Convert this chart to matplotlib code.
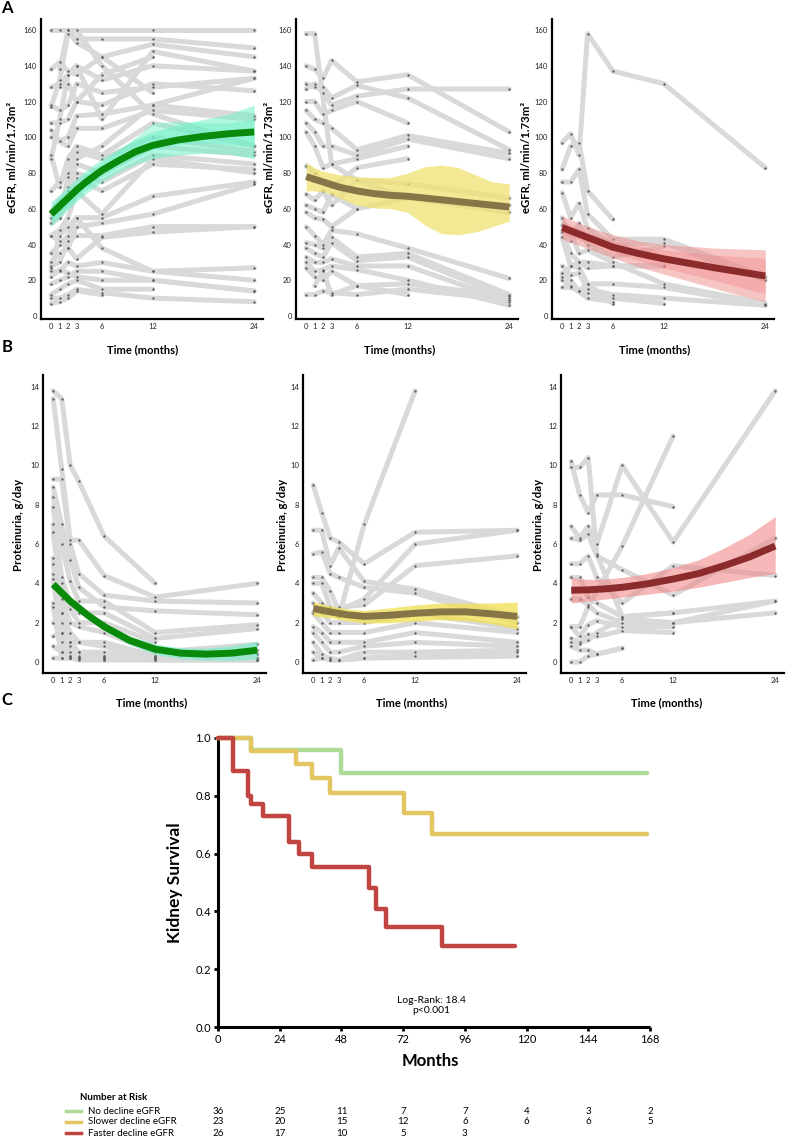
import numpy as np
import matplotlib
matplotlib.use('Agg')
import matplotlib.pyplot as plt
from matplotlib.transforms import blended_transform_factory

plt.rcParams['font.family'] = ['Lato', 'DejaVu Sans']

# ---------------- DATA ----------------
visit_months = [0, 1, 2, 3, 6, 12, 24]
egfr_ticks = [0, 20, 40, 60, 80, 100, 120, 140, 160]
prot_ticks = [0, 2, 4, 6, 8, 10, 12, 14]

# individual eGFR trajectories (values at visit_months, None = missing)
egfr_no_decline = [
    [160, 160, None, None, None, 160, 160],
    [None, None, 160, 155, 155, 155, 150],
    [138, 142, 137, 135, 145, 152, 145],
    [128, 130, 135, 140, 132, 140, 137],
    [118, 115, 118, 130, 125, 128, 133],
    [108, 108, 110, 120, 118, 130, 126],
    [104, 98, 100, 112, 113, 118, 112],
    [100, None, 95, 105, 105, 115, 110],
    [90, 72, 88, 95, 90, 108, 95],
    [70, 75, 80, 92, 88, 100, 92],
    [58, 65, 70, 85, 80, 95, 90],
    [55, 60, 72, 80, 75, 90, 85],
    [52, 55, 65, 77, 70, 85, 82],
    [45, 48, 55, 70, 57, 88, 80],
    [35, 40, 45, 55, 55, 67, 75],
    [30, 35, 38, 50, 52, 57, 74],
    [28, 30, 42, 45, 45, 50, 50],
    [25, 25, 30, 28, 30, 25, 27],
    [18, 20, 22, 25, 25, 20, 14],
    [12, 15, 18, 20, 15, 15, None],
    [10, 10, 12, 15, 13, 10, 8],
    [7, 8, 10, 14, 12, None, None],
    [None, 138, 160, 153, 145, 125, None],
    [None, 128, 130, 120, 135, 145, None],
    [117, 132, 158, 160, 140, 113, 95],
    [88, 110, 135, 140, 110, 148, 137],
    [None, 55, 78, 88, 95, 118, 133],
    [45, 42, 38, 32, 44, 47, 50],
    [27, 45, 50, 55, 38, 25, 20],
    [22, 26, 24, 22, 20, 20, 14],
]
egfr_slower = [
    [158, 158, None, 85, 76, 66, 62],
    [140, 138, 133, 143, 131, 135, 103],
    [130, 128, 128, 122, 129, 122, 93],
    [127, 130, 125, 118, 123, 127, 127],
    [120, 120, 113, 115, 120, 108, None],
    [115, 110, 108, 105, 93, 101, 91],
    [108, 103, 95, 95, 90, 99, 88],
    [103, 95, 83, 85, 88, 95, None],
    [84, 80, 75, 72, 83, 88, None],
    [68, 65, 70, 62, 76, 74, 66],
    [62, 60, 58, 68, 60, 66, 58],
    [58, 55, 54, 50, 60, None, None],
    [50, 45, 40, 48, 46, 38, 21],
    [41, 40, 38, 44, 33, 35, 12],
    [38, 35, 33, 41, 31, 33, 10],
    [33, 30, 30, 32, 28, 28, 8],
    [30, 25, 26, 28, 26, 20, 6],
    [27, 22, 20, 25, 17, 18, 11],
    [12, 12, 14, 13, 12, 15, 9],
    [None, 17, 25, 12, 17, 12, None],
]
egfr_faster = [
    [97, 102, 90, 158, 137, 130, 83],
    [82, 95, 97, 70, 54, None, None],
    [75, 75, 82, 57, 43, 43, 22],
    [69, 55, 63, 49, 40, 41, 20],
    [55, 42, 52, 40, 33, 39, None],
    [51, 47, 35, 37, 30, 18, 7],
    [47, 35, 30, 30, 28, 28, None],
    [44, 28, 27, 18, 18, 16, 6],
    [28, 23, 24, 15, 12, 10, 6],
    [24, 20, 14, 13, 10, 7, None],
    [20, 17, None, 10, 8, None, None],
    [16, 16, 14, 18, 7, None, None],
    [22, 28, 30, 27, 28, 28, None],
]

# individual proteinuria trajectories
prot_no_decline = [
    [13.8, 13.4, 10, 9.2, 6.4, 4.0, None],
    [13.4, 9.8, 6.2, 6.2, 4.4, 3.3, 4.0],
    [9.3, 9.3, 6, 4.5, 3.4, 3.1, 3.0],
    [8.9, 7, 5.2, 3.8, 2.8, 2.6, 2.4],
    [8.4, 6, 4.1, 3.1, 3.1, 1.5, 1.9],
    [7.9, 4.3, 3, 2.5, 2.5, 1.2, 1.7],
    [7, 4, 2.7, 2, 2, 1, None],
    [6.6, 3.2, 2, 1.8, 1.5, 0.5, 0.9],
    [5.3, 2.5, 1.5, 1, 1, 0.3, 0.6],
    [5, 2, 1, 0.5, 0.5, 0.2, 0.4],
    [4.5, 1.5, 0.5, 0.2, 0.2, 0.2, 0.2],
    [4.2, 1, 0.2, 0.3, 0.3, 0.2, 0.1],
    [3, 0.5, 0.3, 0.2, 0.2, 0.1, 0.1],
    [2.8, 0.2, 0.2, 0.2, 0.1, None, None],
    [2, 2.5, 1, 1, 0.8, 0.3, None],
    [1.3, 1.5, 0.8, 0.5, 0.3, 0.2, 0.2],
    [0.8, 0.5, 0.3, 0.2, 0.2, None, None],
    [0.2, 0.2, 0.2, 0.1, 0.1, 0.1, 0.1],
]
prot_slower = [
    [9, 7.6, 6.3, 6.1, 5.0, 6.6, 6.7],
    [6.7, 6.7, 4.9, 5.8, 4.1, 3.7, 2.3],
    [5.5, 5.6, 4.5, 4.3, 3.8, 3.5, 2.0],
    [4.3, 4.3, 3.6, 2.6, 3.2, 6.0, 6.7],
    [4.0, 4.0, 2.8, 2.3, 7.0, 13.8, None],
    [3.5, 3, 2.5, 2.8, 2.9, 4.9, 5.4],
    [3, 2.5, 2, 2, 2, 2.5, 1.7],
    [2.5, 2, 1.5, 1.5, 1.5, 2, 1.5],
    [1.8, 1.5, 1, 1, 1, 1.5, 1],
    [1.5, 1, 0.5, 0.5, 0.8, 1, 0.8],
    [1, 0.4, 0.1, 0.1, 0.5, 0.5, 0.6],
    [0.5, 0.2, 0.2, 0.1, 0.2, 0.3, 0.5],
    [0.1, 0.2, 0.1, 0.1, 0.2, None, 0.3],
]
prot_faster = [
    [9.9, 9.9, 10.4, 5.5, 2.3, 2.5, 3.1],
    [10.2, 8.5, 7.6, 8.5, 8.5, 7.9, None],
    [6.9, 6.3, 6.9, 6.0, 10.0, 6.1, 13.8],
    [6.3, 6.2, 6.5, 5.4, 4.7, 3.4, 6.3],
    [1.8, 1.8, 2.8, None, 5.9, 11.5, None],
    [5.0, 5.0, 5.4, 4.3, 3.0, 4.9, 4.4],
    [4.3, 4.3, 3.3, 3.0, 2.3, 2.5, None],
    [3.2, 3.2, 2.9, 2.5, 2.0, 2.0, 2.5],
    [1.8, 1.3, 1.9, 2.1, 1.8, 1.8, None],
    [1.0, 0.9, 1.4, 1.3, 1.6, 1.5, None],
    [0.8, 0.6, 0.6, 0.4, 0.7, None, None],
    [0.0, 0.0, 0.3, 0.4, 0.7, None, None],
    [1.2, 1.0, 1.1, 1.5, 2.2, 2.0, 3.1],
]

# fitted mean curves and confidence bands
fitA1_t = [0, 1, 2, 3, 4, 6, 8, 10, 12, 15, 18, 21, 24]
fitA1 = [57, 61.5, 66, 70.5, 74.5, 81.5, 87, 92, 95.5, 98.5, 100.5, 102, 103]
fitA1_lo = [50, 55, 59.5, 64, 68, 75, 80.5, 85, 88, 90, 91, 90.5, 88]
fitA1_hi = [64, 68, 72.5, 77, 81, 88, 93.5, 99, 103, 107, 110, 113, 118]
fitA1_lo2 = [53, 57, 61, 66, 70, 78, 84, 89, 93, 96, 97, 96, 95]
fitA1_hi2 = [61, 66, 70, 74, 79, 86, 93, 100, 108, 109, 108, 108, 110]

fitA2_t = [0, 1, 2, 3, 4, 6, 8, 10, 12, 14, 16, 18, 20, 22, 24]
fitA2 = [78, 76.5, 75, 73.5, 72, 70, 68.5, 67.5, 67, 66, 65, 64, 63, 62, 61]
fitA2_lo = [70, 70, 69.5, 68, 66, 62, 60.5, 60, 58, 51, 46, 45.5, 47, 50, 53]
fitA2_hi = [86, 83, 81, 80, 79, 78, 77.5, 77.5, 80, 83.5, 84.5, 83, 79, 75, 74]

fitA3_t = [0, 2, 4, 6, 9, 12, 15, 18, 21, 24]
fitA3 = [49.5, 45.8, 42.2, 38.5, 35, 32, 29.5, 27, 24.7, 22.4]
fitA3_lo = [43, 39.5, 36, 32.5, 27.5, 23.5, 19.5, 15.5, 11.5, 8]
fitA3_hi = [56, 52, 48.5, 45.5, 42, 40, 39, 38, 37.5, 37]
fitA3_lo2 = [46, 42.5, 39, 35, 31, 27, 23.5, 20, 16.2, 12.4]
fitA3_hi2 = [53, 49.1, 45.4, 42, 39, 37, 35.5, 34, 33.2, 32.4]

fitB_t = [0, 2, 4, 6, 9, 12, 15, 18, 21, 24]
fitB1 = [3.95, 3.1, 2.4, 1.8, 1.1, 0.65, 0.45, 0.4, 0.45, 0.6]
fitB1_lo = [3.85, 2.98, 2.25, 1.62, 0.88, 0.39, 0.17, 0.1, 0.07, 0.15]
fitB1_hi = [4.05, 3.22, 2.55, 1.98, 1.32, 0.91, 0.73, 0.7, 0.83, 1.05]
fitB2 = [2.72, 2.55, 2.4, 2.32, 2.38, 2.48, 2.55, 2.55, 2.45, 2.32]
fitB2_lo = [2.35, 2.25, 2.1, 1.98, 2.0, 2.08, 2.15, 2.1, 1.95, 1.68]
fitB2_hi = [3.05, 2.85, 2.7, 2.62, 2.75, 2.9, 3.0, 3.0, 3.0, 3.05]
fitB3 = [3.65, 3.67, 3.72, 3.8, 3.98, 4.22, 4.5, 4.9, 5.35, 5.9]
fitB3_lo = [3.0, 3.1, 3.2, 3.3, 3.45, 3.6, 3.8, 4.05, 4.3, 4.5]
fitB3_hi = [4.3, 4.2, 4.22, 4.3, 4.5, 4.8, 5.2, 5.8, 6.5, 7.4]

# Kaplan-Meier kidney survival
km_ticks = [0, 24, 48, 72, 96, 120, 144, 168]
km_surv_ticks = [0.0, 0.2, 0.4, 0.6, 0.8, 1.0]
km_no_t = [0, 13, 48, 167]
km_no_s = [1.0, 0.96, 0.88, 0.88]
km_slow_t = [0, 13, 30.5, 36.5, 43.4, 72.4, 83.4, 167]
km_slow_s = [1.0, 0.956, 0.91, 0.863, 0.81, 0.74, 0.668, 0.668]
km_fast_t = [0, 5.7, 11.7, 12.7, 17.5, 27.6, 31.5, 36.5, 58.6, 61.4, 65.3, 87.2, 115.4]
km_fast_s = [1.0, 0.887, 0.80, 0.77, 0.73, 0.64, 0.60, 0.553, 0.48, 0.41, 0.345, 0.28, 0.28]

group_names = ['No decline eGFR', 'Slower decline eGFR', 'Faster decline eGFR']
risk_no = [36, 25, 11, 7, 7, 4, 3, 2]
risk_slow = [23, 20, 15, 12, 6, 6, 6, 5]
risk_fast = [26, 17, 10, 5, 3]

# ---------------- STYLE ----------------
W, H = 787, 1143
fig = plt.figure(figsize=(W / 100, H / 100), dpi=100)

GREY = '#d9d9d9'
DOT = '#5c5c5c'
km_colors = ['#acdc98', '#e3c662', '#c0443f']


def add_ax(l, t, r, b):
    return fig.add_axes([l / W, 1 - b / H, (r - l) / W, (b - t) / H])


def fx(x):
    return x / W


def fy(y):
    return 1 - y / H


def spaghetti(ax, trajs):
    for tr in trajs:
        xs = [t for t, v in zip(visit_months, tr) if v is not None]
        ys = [v for v in tr if v is not None]
        ax.plot(xs, ys, color=GREY, lw=3.6, solid_capstyle='round',
                solid_joinstyle='round', zorder=1)
    for tr in trajs:
        xs = [t for t, v in zip(visit_months, tr) if v is not None]
        ys = [v for v in tr if v is not None]
        ax.plot(xs, ys, ls='none', marker='o', ms=1.7, mew=0,
                color=DOT, zorder=2)


def style(ax, ylim, yticks):
    ax.set_xlim(-1.2, 25)
    ax.set_ylim(*ylim)
    for s in ['top', 'right']:
        ax.spines[s].set_visible(False)
    for s in ['left', 'bottom']:
        ax.spines[s].set_linewidth(1.6)
        ax.spines[s].set_color('black')
    ax.set_xticks(visit_months)
    ax.set_yticks(yticks)
    ax.tick_params(length=0, labelsize=5.5, pad=3, colors='#222222')
    ax.patch.set_alpha(0)


# ---------------- PANEL A ----------------
a_lefts = [41, 296, 552]
a_w = 221.7
a_top, a_bot = 19.3, 318.7
egfr_groups = [egfr_no_decline, egfr_slower, egfr_faster]
a_label_x = [12, 269, 526]
a_time_x = [143, 400, 655]
for i in range(3):
    ax = add_ax(a_lefts[i], a_top, a_lefts[i] + a_w, a_bot)
    style(ax, (-1.5, 166), egfr_ticks)
    spaghetti(ax, egfr_groups[i])
    if i == 0:
        ax.fill_between(fitA1_t, fitA1_lo, fitA1_hi, color='#70f0c8', alpha=0.55, lw=0, zorder=3)
        ax.fill_between(fitA1_t, fitA1_lo2, fitA1_hi2, color='#70f0c8', alpha=0.45, lw=0, zorder=3)
        ax.plot(fitA1_t, fitA1, color='#0a8a0a', lw=5, solid_capstyle='butt', zorder=4)
    elif i == 1:
        ax.fill_between(fitA2_t, fitA2_lo, fitA2_hi, color='#f0e270', alpha=0.75, lw=0, zorder=3)
        ax.plot(fitA2_t, fitA2, color='#857547', lw=5, solid_capstyle='butt', zorder=4)
    else:
        ax.fill_between(fitA3_t, fitA3_lo, fitA3_hi, color='#f08a8a', alpha=0.5, lw=0, zorder=3)
        ax.fill_between(fitA3_t, fitA3_lo2, fitA3_hi2, color='#f08a8a', alpha=0.4, lw=0, zorder=3)
        ax.plot(fitA3_t, fitA3, color='#8b2b2b', lw=5, solid_capstyle='butt', zorder=4)
    fig.text(fx(a_label_x[i]), fy(157), 'eGFR, ml/min/1.73m²', rotation=90,
             ha='center', va='center', fontsize=8.2, fontweight='bold')
    fig.text(fx(a_time_x[i]), fy(350), 'Time (months)', ha='center', va='center',
             fontsize=8, fontweight='bold')

# ---------------- PANEL B ----------------
b_lefts = [43, 303, 561]
b_w = 222.7
b_top, b_bot = 375, 673
prot_groups = [prot_no_decline, prot_slower, prot_faster]
b_label_x = [19, 282, 539]
b_time_x = [152, 412, 667]
fits_b = [(fitB1, fitB1_lo, fitB1_hi, '#70f0c8', 0.6, '#0a8a0a'),
          (fitB2, fitB2_lo, fitB2_hi, '#f0e050', 0.75, '#857547'),
          (fitB3, fitB3_lo, fitB3_hi, '#f08a8a', 0.6, '#8b2b2b')]
for i in range(3):
    ax = add_ax(b_lefts[i], b_top, b_lefts[i] + b_w, b_bot)
    style(ax, (-0.56, 14.6), prot_ticks)
    spaghetti(ax, prot_groups[i])
    f, lo, hi, bc, ba, lc = fits_b[i]
    ax.fill_between(fitB_t, lo, hi, color=bc, alpha=ba, lw=0, zorder=3)
    ax.plot(fitB_t, f, color=lc, lw=5, solid_capstyle='butt', zorder=4)
    fig.text(fx(b_label_x[i]), fy(525), 'Proteinuria, g/day', rotation=90,
             ha='center', va='center', fontsize=8.2, fontweight='bold')
    fig.text(fx(b_time_x[i]), fy(703), 'Time (months)', ha='center', va='center',
             fontsize=8, fontweight='bold')

# ---------------- PANEL C ----------------
axc = add_ax(218, 738, 650, 1027)
axc.set_xlim(0, 168)
axc.set_ylim(0, 1.0)
for s in ['top', 'right']:
    axc.spines[s].set_visible(False)
for s in ['left', 'bottom']:
    axc.spines[s].set_linewidth(2.2)
    axc.spines[s].set_color('black')
axc.spines['bottom'].set_capstyle('butt')
axc.set_xticks(km_ticks)
axc.set_yticks(km_surv_ticks)
axc.set_yticklabels(['%.1f' % v for v in km_surv_ticks])
axc.tick_params(length=3, width=2, labelsize=8, pad=2, colors='black')
km_sets = [(km_no_t, km_no_s), (km_slow_t, km_slow_s), (km_fast_t, km_fast_s)]
for (t, s), c in zip(km_sets, km_colors):
    axc.step(t, s, where='post', color=c, lw=3.2, solid_capstyle='round',
             clip_on=False, zorder=3)
axc.text(83, 0.075, 'Log-Rank: 18.4\np<0.001', ha='center', va='center',
         fontsize=7.5, linespacing=1.2)
fig.text(fx(175), fy(883), 'Kidney Survival', rotation=90, ha='center',
         va='center', fontsize=12.5, fontweight='bold')
fig.text(fx(430), fy(1061), 'Months', ha='center', va='center',
         fontsize=12, fontweight='bold')

# Number at risk table
fig.text(fx(80), fy(1098), 'Number at Risk', ha='left', va='center',
         fontsize=7, fontweight='bold')
row_y = [1111, 1122, 1133]
risks = [risk_no, risk_slow, risk_fast]
tr = blended_transform_factory(axc.transData, fig.transFigure)
for k in range(3):
    fig.lines.append(plt.Line2D([fx(66), fx(81)], [fy(row_y[k]), fy(row_y[k])],
                                transform=fig.transFigure, color=km_colors[k], lw=2.5))
    fig.text(fx(88), fy(row_y[k]), group_names[k], ha='left', va='center', fontsize=7)
    for j, n in enumerate(risks[k]):
        fig.text(km_ticks[j], fy(row_y[k]), str(n), transform=tr, ha='center',
                 va='center', fontsize=7)

# panel letters
for letter, (x, y) in zip('ABC', [(7, 8), (7, 347), (7, 700)]):
    fig.text(fx(x), fy(y), letter, ha='center', va='center', fontsize=12,
             fontweight='bold')

fig.savefig('out.png', dpi=100)
